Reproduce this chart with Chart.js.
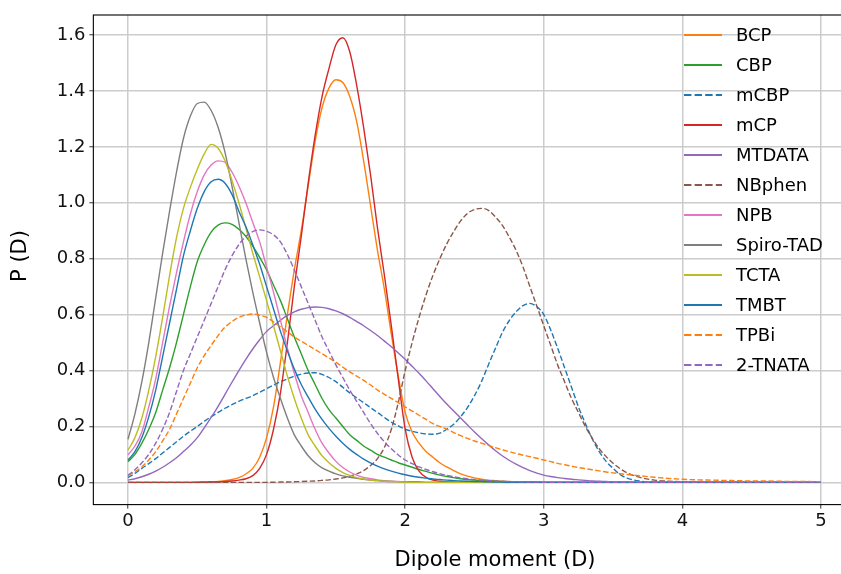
<!DOCTYPE html>
<html>
<head>
<meta charset="utf-8">
<script src="https://cdn.jsdelivr.net/npm/chart.js@4.4.1/dist/chart.umd.min.js"></script>
<style>
  html, body { margin: 0; padding: 0; background: #fff; overflow: hidden; }
  #wrap { width: 857px; height: 574px; }
</style>
</head>
<body>
<div id="wrap"><canvas id="dipoleChart"></canvas></div>
<script>
// dipole moment grid (D): 0.05 steps up to 3.6, then 0.1
const dipole = [
  0.00, 0.05, 0.10, 0.15, 0.20, 0.25, 0.30, 0.35, 0.40, 0.45,
  0.50, 0.55, 0.60, 0.65, 0.70, 0.75, 0.80, 0.85, 0.90, 0.95,
  1.00, 1.05, 1.10, 1.15, 1.20, 1.25, 1.30, 1.35, 1.40, 1.45,
  1.50, 1.55, 1.60, 1.65, 1.70, 1.75, 1.80, 1.85, 1.90, 1.95,
  2.00, 2.05, 2.10, 2.15, 2.20, 2.25, 2.30, 2.35, 2.40, 2.45,
  2.50, 2.55, 2.60, 2.65, 2.70, 2.75, 2.80, 2.85, 2.90, 2.95,
  3.00, 3.05, 3.10, 3.15, 3.20, 3.25, 3.30, 3.35, 3.40, 3.45,
  3.50, 3.55, 3.60, 3.70, 3.80, 3.90, 4.00, 4.10, 4.20, 4.30,
  4.40, 4.50, 4.60, 4.70, 4.80, 4.90, 5.00
];

const pBCP = [
  0, 0, 0, 0, 0, 0, 0, 0, 0, 0,
  0.001, 0.0015, 0.002, 0.003, 0.006, 0.01, 0.017, 0.03, 0.05, 0.09,
  0.16, 0.27, 0.43, 0.60, 0.76, 0.90, 1.06, 1.22, 1.34, 1.41,
  1.44, 1.43, 1.38, 1.29, 1.15, 0.99, 0.83, 0.69, 0.53, 0.38,
  0.25, 0.18, 0.14, 0.11, 0.09, 0.07, 0.055, 0.042, 0.03, 0.022,
  0.016, 0.011, 0.008, 0.006, 0.004, 0.003, 0.002, 0.0015, 0.001, 0.001,
  0, 0, 0, 0, 0, 0, 0, 0, 0, 0,
  0, 0, 0, 0, 0, 0, 0, 0, 0, 0,
  0, 0, 0, 0, 0, 0, 0
];
const pCBP = [
  0.074, 0.10, 0.14, 0.19, 0.25, 0.33, 0.41, 0.50, 0.60, 0.70,
  0.79, 0.85, 0.895, 0.92, 0.928, 0.923, 0.905, 0.88, 0.845, 0.805,
  0.76, 0.705, 0.65, 0.585, 0.52, 0.46, 0.40, 0.35, 0.30, 0.26,
  0.23, 0.20, 0.17, 0.15, 0.13, 0.115, 0.10, 0.09, 0.08, 0.07,
  0.062, 0.054, 0.046, 0.039, 0.032, 0.026, 0.021, 0.017, 0.013, 0.01,
  0.008, 0.006, 0.005, 0.004, 0.003, 0.0025, 0.002, 0.0015, 0.001, 0.001,
  0, 0, 0, 0, 0, 0, 0, 0, 0, 0,
  0, 0, 0, 0, 0, 0, 0, 0, 0, 0,
  0, 0, 0, 0, 0, 0, 0
];
const pmCBP = [
  0.017, 0.032, 0.05, 0.067, 0.085, 0.105, 0.125, 0.145, 0.165, 0.183,
  0.20, 0.218, 0.235, 0.25, 0.265, 0.278, 0.29, 0.30, 0.31, 0.322,
  0.335, 0.348, 0.36, 0.37, 0.38, 0.387, 0.391, 0.392, 0.386, 0.375,
  0.36, 0.34, 0.32, 0.302, 0.285, 0.267, 0.25, 0.232, 0.215, 0.202,
  0.19, 0.183, 0.177, 0.173, 0.172, 0.176, 0.19, 0.208, 0.235, 0.268,
  0.31, 0.36, 0.42, 0.478, 0.535, 0.578, 0.61, 0.632, 0.64, 0.628,
  0.60, 0.545, 0.48, 0.41, 0.34, 0.27, 0.21, 0.155, 0.11, 0.075,
  0.05, 0.028, 0.015, 0.004, 0.001, 0, 0, 0, 0, 0,
  0, 0, 0, 0, 0, 0, 0
];
const pmCP = [
  0, 0, 0, 0, 0, 0, 0, 0, 0, 0,
  0, 0.0005, 0.001, 0.0015, 0.003, 0.005, 0.008, 0.013, 0.024, 0.05,
  0.10, 0.19, 0.32, 0.50, 0.70, 0.88, 1.07, 1.24, 1.38, 1.48,
  1.565, 1.59, 1.54, 1.42, 1.27, 1.10, 0.91, 0.74, 0.56, 0.37,
  0.19, 0.09, 0.04, 0.018, 0.008, 0.004, 0.002, 0.001, 0, 0,
  0, 0, 0, 0, 0, 0, 0, 0, 0, 0,
  0, 0, 0, 0, 0, 0, 0, 0, 0, 0,
  0, 0, 0, 0, 0, 0, 0, 0, 0, 0,
  0, 0, 0, 0, 0, 0, 0
];
const pMTDATA = [
  0.008, 0.013, 0.02, 0.029, 0.04, 0.054, 0.07, 0.088, 0.11, 0.133,
  0.16, 0.195, 0.232, 0.272, 0.315, 0.358, 0.40, 0.44, 0.477, 0.51,
  0.54, 0.56, 0.58, 0.597, 0.61, 0.619, 0.625, 0.627, 0.626, 0.621,
  0.613, 0.603, 0.59, 0.575, 0.56, 0.543, 0.525, 0.505, 0.485, 0.463,
  0.44, 0.415, 0.39, 0.363, 0.335, 0.307, 0.28, 0.255, 0.23, 0.205,
  0.18, 0.157, 0.135, 0.114, 0.095, 0.079, 0.065, 0.053, 0.042, 0.033,
  0.026, 0.021, 0.017, 0.014, 0.011, 0.009, 0.007, 0.005, 0.004, 0.003,
  0.002, 0.0015, 0.001, 0, 0, 0, 0, 0, 0, 0,
  0, 0, 0, 0, 0, 0, 0
];
const pNBphen = [
  0, 0, 0, 0, 0, 0, 0, 0, 0, 0,
  0, 0, 0, 0, 0, 0, 0, 0, 0, 0,
  0, 0.0005, 0.001, 0.0015, 0.002, 0.003, 0.004, 0.005, 0.007, 0.009,
  0.012, 0.016, 0.022, 0.03, 0.042, 0.06, 0.085, 0.125, 0.19, 0.285,
  0.40, 0.50, 0.59, 0.67, 0.74, 0.80, 0.853, 0.897, 0.935, 0.962,
  0.976, 0.98, 0.973, 0.95, 0.92, 0.878, 0.83, 0.77, 0.70, 0.63,
  0.56, 0.49, 0.42, 0.36, 0.30, 0.25, 0.20, 0.157, 0.12, 0.092,
  0.068, 0.049, 0.034, 0.017, 0.008, 0.004, 0.002, 0.001, 0, 0,
  0, 0, 0, 0, 0, 0, 0
];
const pNPB = [
  0.098, 0.13, 0.18, 0.27, 0.37, 0.50, 0.63, 0.75, 0.86, 0.96,
  1.04, 1.10, 1.135, 1.15, 1.145, 1.11, 1.06, 1.00, 0.93, 0.86,
  0.77, 0.68, 0.58, 0.48, 0.39, 0.31, 0.25, 0.19, 0.14, 0.105,
  0.075, 0.053, 0.037, 0.026, 0.018, 0.013, 0.009, 0.006, 0.004, 0.003,
  0.002, 0.0015, 0.001, 0, 0, 0, 0, 0, 0, 0,
  0, 0, 0, 0, 0, 0, 0, 0, 0, 0,
  0, 0, 0, 0, 0, 0, 0, 0, 0, 0,
  0, 0, 0, 0, 0, 0, 0, 0, 0, 0,
  0, 0, 0, 0, 0, 0, 0
];
const pSpiroTAD = [
  0.154, 0.245, 0.36, 0.50, 0.66, 0.82, 0.97, 1.11, 1.23, 1.31,
  1.355, 1.36, 1.33, 1.27, 1.18, 1.06, 0.93, 0.80, 0.68, 0.57,
  0.465, 0.375, 0.30, 0.23, 0.17, 0.13, 0.095, 0.07, 0.052, 0.04,
  0.03, 0.023, 0.018, 0.014, 0.011, 0.008, 0.006, 0.004, 0.003, 0.0025,
  0.002, 0.0015, 0.001, 0, 0, 0, 0, 0, 0, 0,
  0, 0, 0, 0, 0, 0, 0, 0, 0, 0,
  0, 0, 0, 0, 0, 0, 0, 0, 0, 0,
  0, 0, 0, 0, 0, 0, 0, 0, 0, 0,
  0, 0, 0, 0, 0, 0, 0
];
const pTCTA = [
  0.115, 0.16, 0.23, 0.33, 0.45, 0.59, 0.74, 0.875, 0.98, 1.055,
  1.12, 1.175, 1.209, 1.195, 1.15, 1.08, 1.00, 0.91, 0.82, 0.735,
  0.65, 0.56, 0.47, 0.38, 0.30, 0.23, 0.17, 0.13, 0.095, 0.07,
  0.05, 0.035, 0.025, 0.017, 0.012, 0.008, 0.006, 0.004, 0.003, 0.002,
  0.001, 0, 0, 0, 0, 0, 0, 0, 0, 0,
  0, 0, 0, 0, 0, 0, 0, 0, 0, 0,
  0, 0, 0, 0, 0, 0, 0, 0, 0, 0,
  0, 0, 0, 0, 0, 0, 0, 0, 0, 0,
  0, 0, 0, 0, 0, 0, 0
];
const pTMBT = [
  0.08, 0.11, 0.16, 0.235, 0.33, 0.45, 0.57, 0.69, 0.81, 0.90,
  0.98, 1.04, 1.075, 1.084, 1.07, 1.03, 0.97, 0.915, 0.85, 0.78,
  0.70, 0.62, 0.54, 0.47, 0.405, 0.35, 0.305, 0.262, 0.225, 0.193,
  0.165, 0.14, 0.118, 0.10, 0.083, 0.07, 0.058, 0.048, 0.04, 0.033,
  0.027, 0.022, 0.018, 0.015, 0.012, 0.01, 0.008, 0.006, 0.005, 0.004,
  0.003, 0.0025, 0.002, 0.0015, 0.001, 0, 0, 0, 0, 0,
  0, 0, 0, 0, 0, 0, 0, 0, 0, 0,
  0, 0, 0, 0, 0, 0, 0, 0, 0, 0,
  0, 0, 0, 0, 0, 0, 0
];
const pTPBi = [
  0.025, 0.038, 0.055, 0.08, 0.11, 0.148, 0.19, 0.245, 0.30, 0.355,
  0.41, 0.453, 0.49, 0.525, 0.555, 0.575, 0.59, 0.598, 0.602, 0.598,
  0.59, 0.574, 0.556, 0.538, 0.52, 0.505, 0.49, 0.475, 0.46, 0.445,
  0.43, 0.412, 0.395, 0.38, 0.365, 0.348, 0.33, 0.315, 0.30, 0.285,
  0.27, 0.255, 0.24, 0.225, 0.21, 0.20, 0.19, 0.178, 0.167, 0.157,
  0.148, 0.14, 0.132, 0.124, 0.116, 0.11, 0.103, 0.097, 0.092, 0.086,
  0.08, 0.074, 0.068, 0.063, 0.058, 0.053, 0.049, 0.045, 0.041, 0.037,
  0.034, 0.031, 0.028, 0.023, 0.018, 0.014, 0.011, 0.009, 0.008, 0.007,
  0.006, 0.005, 0.005, 0.004, 0.003, 0.003, 0.002
];
const p2TNATA = [
  0.025, 0.045, 0.07, 0.10, 0.14, 0.19, 0.25, 0.325, 0.40, 0.46,
  0.52, 0.58, 0.64, 0.70, 0.76, 0.81, 0.85, 0.88, 0.897, 0.903,
  0.898, 0.885, 0.86, 0.815, 0.76, 0.70, 0.64, 0.58, 0.52, 0.47,
  0.42, 0.375, 0.33, 0.29, 0.25, 0.21, 0.175, 0.145, 0.12, 0.098,
  0.08, 0.067, 0.055, 0.046, 0.038, 0.031, 0.025, 0.02, 0.016, 0.013,
  0.01, 0.008, 0.006, 0.005, 0.004, 0.003, 0.002, 0.0015, 0.001, 0.001,
  0, 0, 0, 0, 0, 0, 0, 0, 0, 0,
  0, 0, 0, 0, 0, 0, 0, 0, 0, 0,
  0, 0, 0, 0, 0, 0, 0
];

const xTicks = [0, 1, 2, 3, 4, 5];
const yTicks = [0.0, 0.2, 0.4, 0.6, 0.8, 1.0, 1.2, 1.4, 1.6];

const FONT = "'DejaVu Sans', sans-serif";
const DASH = [5.5, 2.4];

// label, values, colour, dashed
const series = [
  ['BCP', pBCP, '#ff7f0e', false],
  ['CBP', pCBP, '#2ca02c', false],
  ['mCBP', pmCBP, '#1f77b4', true],
  ['mCP', pmCP, '#d62728', false],
  ['MTDATA', pMTDATA, '#9467bd', false],
  ['NBphen', pNBphen, '#8c564b', true],
  ['NPB', pNPB, '#e377c2', false],
  ['Spiro-TAD', pSpiroTAD, '#7f7f7f', false],
  ['TCTA', pTCTA, '#bcbd22', false],
  ['TMBT', pTMBT, '#1f77b4', false],
  ['TPBi', pTPBi, '#ff7f0e', true],
  ['2-TNATA', p2TNATA, '#9467bd', true]
];

const datasets = series.map(([label, vals, color, dashed], i) => ({
  label: label,
  data: dipole.map((d, k) => ({ x: d, y: vals[k] })),
  borderColor: color,
  backgroundColor: color,
  borderWidth: 1.4,
  borderDash: dashed ? DASH : [],
  pointRadius: 0,
  cubicInterpolationMode: 'monotone',
  fill: false,
  order: -i   // later series on top
}));

// black frame round the plot area
const plotFrame = {
  id: 'plotFrame',
  afterDatasetsDraw(chart) {
    const { ctx, chartArea: a } = chart;
    ctx.save();
    ctx.strokeStyle = '#000';
    ctx.lineWidth = 1.1;
    ctx.strokeRect(a.left, a.top, a.right - a.left, a.bottom - a.top);
    ctx.restore();
  }
};

// legend without frame, top right inside the axes
const sideLegend = {
  id: 'sideLegend',
  afterDraw(chart) {
    const ctx = chart.ctx;
    ctx.save();
    ctx.font = '18px ' + FONT;
    ctx.textBaseline = 'middle';
    ctx.textAlign = 'left';
    chart.data.datasets.forEach((ds, i) => {
      const y = 35 + i * 30;
      ctx.strokeStyle = ds.borderColor;
      ctx.lineWidth = 2;
      ctx.setLineDash(ds.borderDash.length ? [7.4, 3.2] : []);
      ctx.beginPath();
      ctx.moveTo(684, y);
      ctx.lineTo(722, y);
      ctx.stroke();
      ctx.setLineDash([]);
      ctx.fillStyle = '#000';
      ctx.fillText(ds.label, 736, y + 1);
    });
    ctx.restore();
  }
};

// axis titles
const axisTitles = {
  id: 'axisTitles',
  afterDraw(chart) {
    const ctx = chart.ctx;
    ctx.save();
    ctx.fillStyle = '#000';
    ctx.font = '21px ' + FONT;
    ctx.textAlign = 'center';
    ctx.textBaseline = 'middle';
    ctx.fillText('Dipole moment (D)', 495, 561);
    ctx.translate(21, 256);
    ctx.rotate(-Math.PI / 2);
    ctx.fillText('P (D)', 0, 0);
    ctx.restore();
  }
};

new Chart(document.getElementById('dipoleChart'), {
  type: 'line',
  data: { datasets: datasets },
  options: {
    responsive: true,
    maintainAspectRatio: false,
    animation: false,
    layout: { padding: { left: 0, top: 15, right: 1.35, bottom: 0 } },
    plugins: { legend: { display: false }, tooltip: { enabled: false } },
    scales: {
      x: {
        type: 'linear',
        min: -0.25,
        max: 5.25,
        afterFit: s => { s.height = 69.4; },
        afterBuildTicks: s => { s.ticks = xTicks.map(v => ({ value: v })); },
        grid: { color: '#cccccc', lineWidth: 1.5, drawTicks: true, tickLength: 4, tickColor: '#333', tickWidth: 1 },
        border: { display: false },
        ticks: { color: '#111', font: { family: FONT, size: 18 }, padding: 2, maxRotation: 0, callback: v => String(v) }
      },
      y: {
        type: 'linear',
        min: -0.0796,
        max: 1.6716,
        afterFit: s => { s.width = 93.35; },
        afterBuildTicks: s => { s.ticks = yTicks.map(v => ({ value: v })); },
        grid: { color: '#cccccc', lineWidth: 1.5, drawTicks: true, tickLength: 4, tickColor: '#333', tickWidth: 1 },
        border: { display: false },
        ticks: { color: '#111', font: { family: FONT, size: 18 }, padding: 4, callback: v => v.toFixed(1) }
      }
    }
  },
  plugins: [plotFrame, sideLegend, axisTitles]
});
</script>
</body>
</html>
